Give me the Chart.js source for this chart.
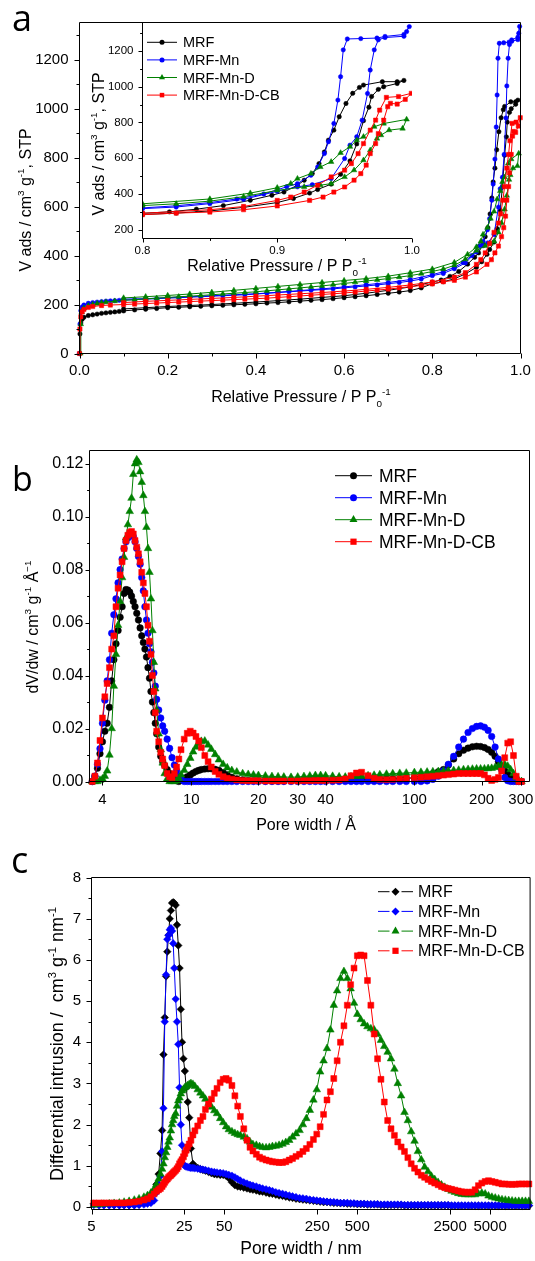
<!DOCTYPE html>
<html>
<head>
<meta charset="utf-8">
<script src="https://cdn.jsdelivr.net/npm/chart.js@4.4.1/dist/chart.umd.min.js"></script>
<style>
  body { margin: 0; background: #fff; width: 535px; height: 1261px; position: relative; overflow: hidden; }
  canvas { position: absolute; left: 0; }
</style>
</head>
<body>
<canvas id="chart-a" width="535" height="420" style="top:0"></canvas>
<canvas id="chart-inset" width="535" height="420" style="top:0"></canvas>
<canvas id="chart-b" width="535" height="420" style="top:420px"></canvas>
<canvas id="chart-c" width="535" height="421" style="top:840px"></canvas>
<script>
// ---------- data: panel a, N2 isotherms (relative pressure, volume adsorbed) ----------
const seriesNames = ['MRF', 'MRF-Mn', 'MRF-Mn-D', 'MRF-Mn-D-CB'];

const mrfAdsP = [0, 0.001, 0.003, 0.006, 0.01, 0.02, 0.03, 0.04, 0.05, 0.06, 0.07, 0.08, 0.09, 0.1, 0.125, 0.15, 0.175, 0.2, 0.225, 0.25, 0.275, 0.3, 0.325, 0.35, 0.375, 0.4, 0.425, 0.45, 0.475, 0.5, 0.525, 0.55, 0.575, 0.6, 0.625, 0.65, 0.675, 0.7, 0.725, 0.75, 0.775, 0.8, 0.825, 0.85, 0.875, 0.9, 0.912, 0.924, 0.93, 0.94, 0.947, 0.954, 0.959, 0.964, 0.968, 0.97, 0.975, 0.979, 0.989, 0.994];
const mrfAdsV = [0, 80, 125, 140, 148, 155, 158, 161, 164, 166, 168, 170, 172, 174, 178, 181, 184, 187, 189, 191, 193, 195, 197, 199, 201, 203, 206, 208, 211, 214, 217, 220, 224, 228, 232, 236, 241, 246, 251, 257, 268, 285, 293, 305, 325, 352, 375, 405, 425, 455, 510, 585, 680, 810, 885, 945, 985, 1000, 1018, 1035];
const mrfDesP = [0.989, 0.978, 0.964, 0.961, 0.956, 0.951, 0.946, 0.942, 0.938, 0.935, 0.931, 0.926, 0.92, 0.915, 0.905, 0.896, 0.88, 0.86, 0.84, 0.82, 0.8, 0.775, 0.75, 0.7, 0.65, 0.6, 0.55, 0.5, 0.45, 0.4, 0.35, 0.3, 0.25, 0.2, 0.15, 0.1];
const mrfDesV = [1028, 1028, 1009, 996, 963, 906, 832, 757, 701, 635, 570, 514, 477, 449, 411, 393, 365, 335, 315, 300, 292, 282, 272, 258, 246, 236, 229, 222, 216, 210, 205, 200, 196, 192, 187, 182];

const mnAdsP = [0, 0.001, 0.003, 0.006, 0.01, 0.02, 0.03, 0.04, 0.05, 0.06, 0.07, 0.08, 0.09, 0.1, 0.125, 0.15, 0.175, 0.2, 0.225, 0.25, 0.275, 0.3, 0.325, 0.35, 0.375, 0.4, 0.425, 0.45, 0.475, 0.5, 0.525, 0.55, 0.575, 0.6, 0.625, 0.65, 0.675, 0.7, 0.725, 0.75, 0.775, 0.8, 0.825, 0.85, 0.875, 0.9, 0.915, 0.926, 0.94, 0.95, 0.954, 0.959, 0.963, 0.967, 0.969, 0.972, 0.975, 0.98, 0.994, 0.996, 0.998];
const mnAdsV = [0, 120, 175, 190, 198, 205, 208, 210, 212, 214, 215, 216, 217, 218, 220, 222, 224, 226, 228, 230, 232, 234, 236, 238, 240, 243, 246, 249, 252, 255, 258, 261, 264, 268, 272, 276, 280, 285, 290, 296, 304, 318, 327, 346, 370, 415, 440, 452, 486, 598, 673, 720, 813, 962, 1093, 1206, 1262, 1275, 1282, 1308, 1336];
const mnDesP = [0.994, 0.98, 0.974, 0.962, 0.952, 0.949, 0.947, 0.945, 0.942, 0.938, 0.935, 0.93, 0.925, 0.915, 0.907, 0.89, 0.87, 0.85, 0.825, 0.8, 0.75, 0.7, 0.65, 0.6, 0.55, 0.5, 0.45, 0.4, 0.35, 0.3, 0.25, 0.2, 0.15, 0.1];
const mnDesV = [1292, 1281, 1272, 1269, 1267, 1206, 1056, 925, 794, 692, 626, 551, 505, 458, 440, 400, 372, 352, 334, 322, 302, 290, 281, 272, 264, 257, 250, 244, 240, 236, 232, 228, 224, 222];

const mndAdsP = [0.002, 0.003, 0.005, 0.01, 0.02, 0.03, 0.04, 0.05, 0.06, 0.08, 0.1, 0.125, 0.15, 0.175, 0.2, 0.225, 0.25, 0.275, 0.3, 0.325, 0.35, 0.375, 0.4, 0.425, 0.45, 0.475, 0.5, 0.525, 0.55, 0.575, 0.6, 0.625, 0.65, 0.675, 0.7, 0.725, 0.75, 0.775, 0.8, 0.825, 0.85, 0.875, 0.9, 0.92, 0.932, 0.94, 0.95, 0.957, 0.964, 0.969, 0.974, 0.977, 0.983, 0.993, 0.996];
const mndAdsV = [0, 120, 170, 185, 195, 200, 204, 207, 210, 214, 217, 220, 223, 226, 229, 232, 234, 237, 240, 243, 246, 249, 252, 256, 260, 264, 268, 272, 276, 281, 286, 291, 296, 301, 306, 312, 318, 326, 335, 345, 360, 385, 420, 440, 449, 458, 495, 533, 589, 645, 710, 729, 757, 766, 817];
const mndDesP = [0.979, 0.972, 0.964, 0.959, 0.954, 0.947, 0.94, 0.932, 0.925, 0.915, 0.91, 0.9, 0.88, 0.85, 0.8, 0.75, 0.7, 0.65, 0.6, 0.55, 0.5, 0.45, 0.4, 0.35, 0.3, 0.25, 0.2, 0.15, 0.1];
const mndDesV = [794, 776, 720, 701, 664, 630, 580, 551, 514, 486, 458, 435, 405, 372, 345, 330, 316, 306, 298, 290, 282, 274, 266, 258, 250, 243, 237, 232, 227];

const cbAdsP = [0, 0.001, 0.003, 0.006, 0.01, 0.02, 0.03, 0.05, 0.07, 0.1, 0.125, 0.15, 0.175, 0.2, 0.225, 0.25, 0.275, 0.3, 0.325, 0.35, 0.375, 0.4, 0.425, 0.45, 0.475, 0.5, 0.525, 0.55, 0.575, 0.6, 0.625, 0.65, 0.675, 0.7, 0.725, 0.75, 0.775, 0.8, 0.825, 0.85, 0.875, 0.9, 0.924, 0.934, 0.942, 0.95, 0.957, 0.962, 0.966, 0.969, 0.973, 0.975, 0.979, 0.982, 0.984, 0.989, 0.995, 0.9995];
const cbAdsV = [0, 100, 150, 170, 180, 188, 192, 196, 198, 200, 202, 204, 206, 208, 210, 212, 214, 216, 218, 220, 222, 224, 226, 229, 232, 235, 238, 241, 244, 247, 251, 255, 259, 263, 268, 273, 278, 284, 293, 299, 312, 333, 364, 383, 411, 439, 477, 514, 561, 626, 682, 738, 813, 888, 907, 903, 929, 963];
const cbDesP = [0.99, 0.981, 0.976, 0.973, 0.969, 0.964, 0.96, 0.955, 0.95, 0.94, 0.93, 0.92, 0.91, 0.9, 0.875, 0.85, 0.8, 0.75, 0.7, 0.65, 0.6, 0.55, 0.5, 0.45, 0.4, 0.35, 0.3, 0.25, 0.2, 0.15, 0.1];
const cbDesV = [945, 940, 869, 813, 757, 682, 626, 570, 533, 495, 449, 411, 383, 364, 330, 312, 292, 280, 270, 262, 255, 249, 244, 239, 234, 229, 225, 221, 217, 213, 208];

// ---------- data: panel b, pore size distribution (width in Angstrom, dV/dw) ----------
const widthAng = [
  3.6, 3.7, 3.8, 3.9, 4.0, 4.1, 4.2, 4.3, 4.4, 4.5,
  4.6, 4.7, 4.8, 4.9, 5.0, 5.1, 5.2, 5.3, 5.4, 5.5,
  5.6, 5.7, 5.8, 5.9, 6.0, 6.1, 6.2, 6.3, 6.4, 6.5,
  6.6, 6.7, 6.8, 6.9, 7.0, 7.15, 7.3, 7.45, 7.6, 7.8,
  8.0, 8.2, 8.4, 8.6, 8.8, 9.0, 9.3, 9.6, 9.9, 10.2,
  10.5, 10.8, 11.1, 11.5, 11.9, 12.3, 12.8, 13.3, 13.9, 14.5,
  15.2, 16, 17, 18, 19, 20, 21.5, 23, 24.5, 26,
  28, 30, 32, 34, 36, 38, 40, 43, 46, 49,
  52, 55, 58, 62, 66, 70, 75, 80, 86, 92,
  100, 107, 114, 121, 128, 135, 142, 150, 158, 166,
  174, 182, 190, 198, 206, 214, 222, 230, 238, 246,
  254, 262, 270, 278, 286, 294, 302];
const psdMRF = [
  0, 0.002, 0.005, 0.0105, 0.015, 0.019, 0.022, 0.028, 0.038, 0.046,
  0.052, 0.057, 0.062, 0.066, 0.071, 0.0725, 0.0723, 0.0715, 0.070, 0.068,
  0.066, 0.0635, 0.061, 0.058, 0.055, 0.0525, 0.050, 0.047, 0.043, 0.039,
  0.034, 0.03, 0.026, 0.022, 0.018, 0.013, 0.0095, 0.0075, 0.006, 0.0045,
  0.003, 0.0018, 0.001, 0.0003, 0, 0.0005, 0.0012, 0.0018, 0.0025, 0.0032,
  0.0038, 0.0042, 0.0045, 0.0047, 0.0048, 0.0048, 0.0046, 0.0042, 0.0034, 0.0025,
  0.0016, 0.001, 0.0006, 0.0004, 0.0003, 0.0003, 0.0002, 0.0002, 0.0002, 0.0002,
  0.0003, 0.0003, 0.0004, 0.0005, 0.0005, 0.0005, 0.0005, 0.0005, 0.0005, 0.0005,
  0.0006, 0.0006, 0.0007, 0.0007, 0.0008, 0.0008, 0.0009, 0.001, 0.0011, 0.0012,
  0.0014, 0.0017, 0.0022, 0.003, 0.0037, 0.0045, 0.0062, 0.0085, 0.0105, 0.0118,
  0.0126, 0.0131, 0.0133, 0.0132, 0.0128, 0.0121, 0.011, 0.0095, 0.0075, 0.0055,
  0.004, 0.0028, 0.0018, 0.001, 0.0003, 0, 0];
const psdMn = [
  0, 0.002, 0.0065, 0.0124, 0.022, 0.0307, 0.038, 0.046, 0.056, 0.063,
  0.069, 0.075, 0.080, 0.084, 0.088, 0.0905, 0.092, 0.093, 0.093, 0.0925,
  0.0905, 0.088, 0.085, 0.082, 0.077, 0.072, 0.066, 0.061, 0.056, 0.052,
  0.049, 0.045, 0.041, 0.036, 0.031, 0.027, 0.024, 0.021, 0.019, 0.016,
  0.0125, 0.009, 0.0062, 0.004, 0.002, 0.0008, 0, 0, 0, 0,
  0, 0, 0, 0, 0, 0, 0, 0, 0, 0,
  0, 0, 0, 0, 0, 0, 0, 0, 0, 0,
  0, 0, 0, 0, 0, 0, 0, 0, 0, 0,
  0, 0, 0, 0, 0, 0, 0, 0, 0, 0,
  0, 0, 0.0002, 0.0008, 0.002, 0.004, 0.0065, 0.0095, 0.013, 0.016,
  0.0185, 0.02, 0.0208, 0.021, 0.0205, 0.0193, 0.017, 0.013, 0.0085, 0.0045,
  0.0015, 0.0003, 0, 0, 0, 0, 0];
const psdMnD = [
  0, 0, 0, 0.0005, 0.001, 0.002, 0.004, 0.01, 0.02, 0.036,
  0.048, 0.059, 0.068, 0.077, 0.0847, 0.092, 0.097, 0.102, 0.107, 0.116,
  0.12, 0.1215, 0.1205, 0.117, 0.113, 0.108, 0.102, 0.096, 0.088, 0.079,
  0.069, 0.057, 0.045, 0.035, 0.027, 0.018, 0.012, 0.007, 0.003, 0.001,
  0, 0, 0, 0.0003, 0.0012, 0.0025, 0.0042, 0.0065, 0.0088, 0.0112,
  0.013, 0.0143, 0.0152, 0.0153, 0.0138, 0.0122, 0.0102, 0.0082, 0.0065, 0.0052,
  0.0042, 0.0036, 0.003, 0.0027, 0.0025, 0.0023, 0.0021, 0.0019, 0.0018, 0.0017,
  0.0016, 0.0017, 0.0019, 0.0021, 0.0023, 0.0023, 0.0022, 0.002, 0.0018, 0.0017,
  0.0018, 0.0019, 0.002, 0.0022, 0.0024, 0.0026, 0.0028, 0.003, 0.0031, 0.0032,
  0.0034, 0.0035, 0.0036, 0.0037, 0.0038, 0.0039, 0.004, 0.0042, 0.0043, 0.0045,
  0.0046, 0.0047, 0.0048, 0.0048, 0.0048, 0.0049, 0.005, 0.0053, 0.0058, 0.0063,
  0.0065, 0.0058, 0.0045, 0.003, 0.0015, 0.0003, 0];
const psdMnDCB = [
  0, 0.002, 0.007, 0.0155, 0.024, 0.032, 0.037, 0.043, 0.05, 0.055,
  0.066, 0.073, 0.078, 0.083, 0.088, 0.091, 0.093, 0.094, 0.0944, 0.0935,
  0.091, 0.0885, 0.086, 0.083, 0.079, 0.075, 0.071, 0.066, 0.059, 0.053,
  0.048, 0.04, 0.034, 0.026, 0.019, 0.015, 0.011, 0.0085, 0.006, 0.003,
  0.0018, 0.0015, 0.003, 0.0055, 0.0085, 0.012, 0.016, 0.0182, 0.019, 0.0183,
  0.017, 0.0153, 0.0128, 0.0098, 0.0075, 0.0055, 0.0038, 0.0027, 0.0018, 0.0012,
  0.0009, 0.0006, 0.0004, 0.0003, 0.0003, 0.0003, 0.0002, 0.0002, 0.0002, 0.0002,
  0.0002, 0.0002, 0.0003, 0.0003, 0.0004, 0.0004, 0.0004, 0.0005, 0.0006, 0.001,
  0.0022, 0.0032, 0.0035, 0.0022, 0.0012, 0.0008, 0.0007, 0.0008, 0.001, 0.0012,
  0.0014, 0.0016, 0.0018, 0.002, 0.0022, 0.0024, 0.0026, 0.0028, 0.003, 0.003,
  0.003, 0.003, 0.003, 0.003, 0.0025, 0.0012, 0.0004, 0.0008, 0.0015, 0.004,
  0.009, 0.0145, 0.015, 0.0098, 0.002, 0, 0];

// ---------- data: panel c, Hg intrusion (width in nm, differential intrusion) ----------
const widthNm = [
  5.2, 5.7, 6.2, 6.8, 7.4, 8.1, 8.8, 9.6, 10.5, 11.4,
  12.4, 13.2, 14.0, 14.8, 15.4, 16.0, 16.5, 17.0, 17.4, 17.8,
  18.2, 18.6, 19.0, 19.4, 19.8, 20.2, 20.6, 21.0, 21.5, 22.0,
  22.5, 23.0, 23.5, 24.0, 24.6, 25.2, 25.8, 26.5, 27.2, 28.0,
  29, 30, 31.5, 33, 34.5, 36, 38, 40, 42, 44,
  46.5, 49, 51.5, 54, 57, 60, 63, 66, 70, 74,
  78, 82, 87, 92, 97, 103, 109, 115, 122, 129,
  137, 145, 154, 163, 173, 184, 195, 207, 220, 234,
  248, 263, 279, 296, 314, 333, 353, 374, 397, 421,
  446, 473, 501, 531, 563, 597, 633, 671, 711, 754,
  799, 847, 898, 952, 1009, 1070, 1134, 1202, 1274, 1350,
  1431, 1517, 1608, 1705, 1807, 1915, 2030, 2152, 2281, 2418,
  2563, 2717, 2880, 3053, 3236, 3430, 3636, 3854, 4085, 4330,
  4590, 4865, 5157, 5466, 5794, 6142, 6510, 6901, 7315, 7754,
  8219, 8712, 9235, 9790];
const hgMRF = [
  0.08, 0.07, 0.06, 0.06, 0.05, 0.05, 0.05, 0.05, 0.05, 0.06,
  0.1, 0.17, 0.28, 0.4, 0.55, 0.8, 1.3, 1.86, 3.7, 4.6,
  5.6, 6.2, 6.6, 7.0, 7.2, 7.38, 7.4, 7.38, 7.33, 6.85,
  6.35, 5.8, 4.8, 4.0, 3.6, 3.3, 2.9, 2.55, 2.17, 1.42,
  1.05, 0.98, 0.95, 0.92, 0.9, 0.88, 0.85, 0.82, 0.8, 0.79,
  0.78, 0.78, 0.76, 0.7, 0.6, 0.53, 0.5, 0.49, 0.47, 0.45,
  0.43, 0.42, 0.4, 0.38, 0.37, 0.35, 0.33, 0.32, 0.3, 0.28,
  0.27, 0.25, 0.23, 0.22, 0.2, 0.19, 0.18, 0.17, 0.16, 0.15,
  0.14, 0.13, 0.12, 0.12, 0.11, 0.1, 0.1, 0.09, 0.09, 0.08,
  0.08, 0.08, 0.07, 0.07, 0.07, 0.06, 0.06, 0.06, 0.06, 0.05,
  0.05, 0.05, 0.05, 0.05, 0.05, 0.05, 0.04, 0.04, 0.04, 0.04,
  0.04, 0.04, 0.04, 0.04, 0.04, 0.04, 0.04, 0.04, 0.04, 0.04,
  0.03, 0.03, 0.03, 0.03, 0.03, 0.03, 0.03, 0.03, 0.03, 0.03,
  0.03, 0.03, 0.03, 0.03, 0.03, 0.03, 0.03, 0.03, 0.03, 0.03,
  0.03, 0.03, 0.03, 0.03];
const hgMn = [
  0.05, 0.04, 0.04, 0.04, 0.04, 0.04, 0.04, 0.04, 0.04, 0.05,
  0.06, 0.08, 0.1, 0.16, 0.35, 0.55, 0.75, 1.35, 2.4, 4.5,
  5.64, 6.5, 6.6, 6.73, 6.77, 6.7, 6.4, 5.8, 5.05, 4.5,
  3.95, 2.9, 2.0, 1.5, 1.03, 1.0, 0.98, 0.97, 0.96, 0.95,
  0.95, 0.94, 0.93, 0.92, 0.91, 0.9, 0.88, 0.86, 0.85, 0.84,
  0.83, 0.82, 0.8, 0.78, 0.76, 0.72, 0.68, 0.64, 0.6, 0.57,
  0.54, 0.52, 0.5, 0.47, 0.45, 0.43, 0.41, 0.39, 0.36, 0.34,
  0.32, 0.3, 0.28, 0.26, 0.24, 0.22, 0.21, 0.2, 0.18, 0.17,
  0.16, 0.15, 0.14, 0.13, 0.12, 0.12, 0.11, 0.1, 0.1, 0.1,
  0.09, 0.09, 0.08, 0.08, 0.08, 0.07, 0.07, 0.07, 0.07, 0.06,
  0.06, 0.06, 0.06, 0.06, 0.06, 0.06, 0.05, 0.05, 0.05, 0.05,
  0.05, 0.05, 0.05, 0.05, 0.05, 0.05, 0.05, 0.05, 0.05, 0.05,
  0.04, 0.04, 0.04, 0.04, 0.04, 0.04, 0.04, 0.04, 0.04, 0.04,
  0.04, 0.04, 0.04, 0.04, 0.04, 0.04, 0.04, 0.04, 0.04, 0.04,
  0.04, 0.04, 0.04, 0.04];
const hgMnD = [
  0.05, 0.06, 0.07, 0.08, 0.09, 0.1, 0.12, 0.14, 0.17, 0.2,
  0.24, 0.28, 0.34, 0.44, 0.55, 0.68, 0.8, 0.92, 1.05, 1.2,
  1.32, 1.45, 1.58, 1.68, 1.85, 2.0, 2.1, 2.2, 2.27, 2.45,
  2.58, 2.65, 2.75, 2.82, 2.86, 2.9, 2.92, 2.95, 2.98, 3.0,
  2.98, 2.93, 2.85, 2.77, 2.7, 2.62, 2.52, 2.43, 2.34, 2.27,
  2.15, 2.05, 1.95, 1.88, 1.83, 1.79, 1.76, 1.74, 1.7, 1.66,
  1.58, 1.52, 1.5, 1.47, 1.45, 1.44, 1.45, 1.47, 1.48, 1.5,
  1.53, 1.57, 1.62, 1.7, 1.78, 1.86, 2.0, 2.15, 2.35, 2.6,
  2.85, 3.28, 3.55, 3.85, 4.3, 4.9, 5.25, 5.55, 5.72, 5.55,
  5.3, 4.95, 4.68, 4.55, 4.45, 4.38, 4.33, 4.3, 4.2, 4.05,
  3.9, 3.76, 3.6, 3.35, 3.0, 2.7, 2.3, 2.1, 1.83, 1.6,
  1.35, 1.15, 0.97, 0.86, 0.75, 0.67, 0.6, 0.54, 0.48, 0.43,
  0.39, 0.36, 0.33, 0.31, 0.3, 0.3, 0.3, 0.3, 0.32, 0.34,
  0.32, 0.27, 0.24, 0.22, 0.2, 0.18, 0.17, 0.16, 0.15, 0.14,
  0.14, 0.14, 0.14, 0.14];
const hgMnDCB = [
  0.1, 0.1, 0.1, 0.1, 0.1, 0.1, 0.1, 0.11, 0.12, 0.14,
  0.17, 0.2, 0.25, 0.32, 0.38, 0.42, 0.45, 0.5, 0.55, 0.6,
  0.65, 0.68, 0.72, 0.75, 0.77, 0.8, 0.83, 0.86, 0.89, 0.93,
  0.98, 1.05, 1.1, 1.15, 1.22, 1.3, 1.38, 1.46, 1.53, 1.62,
  1.75, 1.85, 1.97, 2.1, 2.2, 2.37, 2.5, 2.62, 2.76, 2.88,
  3.02, 3.1, 3.12, 3.08, 2.95, 2.7, 2.45, 2.2, 1.9, 1.62,
  1.45, 1.36, 1.28, 1.21, 1.17, 1.14, 1.12, 1.1, 1.09, 1.08,
  1.08, 1.1, 1.14, 1.18, 1.23, 1.28, 1.35, 1.42, 1.52, 1.64,
  1.77, 1.95, 2.25, 2.6, 2.8, 3.12, 3.55, 4.0, 4.4, 4.9,
  5.4, 5.8, 6.1, 6.12, 6.1, 5.5, 4.9, 4.2, 3.6, 3.1,
  2.55, 2.1, 1.9, 1.74, 1.58, 1.46, 1.35, 1.2, 1.05, 0.94,
  0.85, 0.77, 0.72, 0.67, 0.62, 0.58, 0.54, 0.5, 0.47, 0.45,
  0.43, 0.41, 0.39, 0.37, 0.36, 0.36, 0.36, 0.42, 0.52, 0.58,
  0.62, 0.64, 0.62, 0.6, 0.58, 0.56, 0.56, 0.55, 0.55, 0.55,
  0.56, 0.56, 0.56, 0.56];

// ---------- tick values ----------
const isoXTicks = [0, 0.2, 0.4, 0.6, 0.8, 1.0];
const isoXMinor = [0.1, 0.3, 0.5, 0.7, 0.9];
const isoYTicks = [0, 200, 400, 600, 800, 1000, 1200];
const isoYMinor = [100, 300, 500, 700, 900, 1100, 1300];
const insetXTicks = [0.8, 0.9, 1.0];
const insetXMinor = [0.85, 0.95];
const insetYTicks = [200, 400, 600, 800, 1000, 1200];
const insetYMinor = [300, 500, 700, 900, 1100, 1300];
const psdXTicks = [4, 10, 20, 30, 40, 100, 200, 300];
const psdYTicks = [0, 0.02, 0.04, 0.06, 0.08, 0.10, 0.12];
const psdYMinor = [0.01, 0.03, 0.05, 0.07, 0.09, 0.11];
const hgXTicks = [5, 25, 50, 250, 500, 2500, 5000];
const hgYTicks = [0, 1, 2, 3, 4, 5, 6, 7, 8];
const hgYMinor = [0.5, 1.5, 2.5, 3.5, 4.5, 5.5, 6.5, 7.5];

// ---------- styling ----------
const FONT = '"Liberation Sans", Arial, Helvetica, sans-serif';
const W = 535;
const colors = ['#000000', '#0000ff', '#008000', '#ff0000'];

Chart.defaults.font.family = FONT;
Chart.defaults.color = '#000';

function toPoints(xs, ys) {
  return xs.map((x, i) => ({ x: x, y: ys[i] }));
}

function dataset(label, color, style, radius, points, order, clip) {
  return {
    label: label,
    data: points,
    borderColor: color,
    backgroundColor: color,
    pointBackgroundColor: color,
    pointBorderColor: color,
    pointStyle: style,
    pointRadius: radius,
    pointBorderWidth: 0.5,
    borderWidth: 1,
    tension: 0,
    fill: false,
    order: order,
    clip: clip
  };
}

// padding so that the plot rectangle lands exactly on `area`
function plotLayout(H, area, yw, xh) {
  return { padding: { left: area.l - yw, top: area.t, right: W - area.r, bottom: H - area.b - xh } };
}

function axis(o) {
  return {
    type: o.type || 'linear',
    position: o.position,
    min: o.min,
    max: o.max,
    bounds: 'data',
    grid: { display: false, drawTicks: true, tickLength: o.tl },
    border: { display: false },
    ticks: {
      autoSkip: false, maxRotation: 0, minRotation: 0,
      padding: o.pad, color: '#000',
      font: { size: o.font, family: FONT },
      callback: o.fmt
    },
    afterBuildTicks: s => { s.ticks = o.major.map(v => ({ value: v })); },
    afterFit: s => {
      if (o.position === 'bottom') s.height = o.size; else s.width = o.size;
      s.paddingLeft = 0; s.paddingRight = 0; s.paddingTop = 0; s.paddingBottom = 0;
    }
  };
}

function marker(ctx, style, r, x, y) {
  ctx.beginPath();
  if (style === 'circle') {
    ctx.arc(x, y, r, 0, Math.PI * 2);
  } else if (style === 'rect') {
    const s = r * Math.SQRT1_2;
    ctx.rect(x - s, y - s, 2 * s, 2 * s);
  } else if (style === 'rectRot') {
    ctx.moveTo(x, y - r); ctx.lineTo(x + r, y); ctx.lineTo(x, y + r); ctx.lineTo(x - r, y);
    ctx.closePath();
  } else if (style === 'triangle') {
    ctx.moveTo(x, y - r);
    ctx.lineTo(x + r * 0.866, y + r * 0.5);
    ctx.lineTo(x - r * 0.866, y + r * 0.5);
    ctx.closePath();
  }
  ctx.fill();
}

// text with superscripts (kind 1) and subscripts (kind -1), centred on x,y
function richText(ctx, parts, x, y, size, rotate) {
  ctx.save();
  ctx.translate(x, y);
  if (rotate) ctx.rotate(-Math.PI / 2);
  ctx.fillStyle = '#000';
  ctx.textBaseline = 'alphabetic';
  ctx.textAlign = 'left';
  const fontFor = k => (k ? size * 0.62 : size) + 'px ' + FONT;
  const widths = parts.map(p => { ctx.font = fontFor(p[1]); return ctx.measureText(p[0]).width; });
  const total = widths.reduce((a, b) => a + b, 0);
  let cx = -total / 2;
  const base = size * 0.36;
  parts.forEach((p, i) => {
    ctx.font = fontFor(p[1]);
    const dy = p[1] === 1 ? -size * 0.42 : p[1] === -1 ? size * 0.3 : 0;
    ctx.fillText(p[0], cx, base + dy);
    cx += widths[i];
  });
  ctx.restore();
}

// frame, tick marks, titles, legend and panel letter
function framePlugin(cfg) {
  return {
    id: 'frame',
    afterDraw(chart) {
      const ctx = chart.ctx;
      const a = chart.chartArea;
      const xs = chart.scales.x;
      const ys = chart.scales.y;
      ctx.save();
      ctx.strokeStyle = '#000';
      ctx.lineWidth = 1;
      ctx.beginPath();
      if (cfg.box) {
        ctx.rect(a.left, a.top, a.right - a.left, a.bottom - a.top);
      } else {
        ctx.moveTo(a.left, a.top); ctx.lineTo(a.left, a.bottom); ctx.lineTo(a.right, a.bottom);
      }
      const tickX = (vals, len) => vals.forEach(v => {
        const px = Math.round(xs.getPixelForValue(v)) + 0.5;
        ctx.moveTo(px, a.bottom); ctx.lineTo(px, a.bottom + len);
      });
      const tickY = (vals, len) => vals.forEach(v => {
        const py = Math.round(ys.getPixelForValue(v)) + 0.5;
        ctx.moveTo(a.left, py); ctx.lineTo(a.left - len, py);
      });
      tickX(cfg.xMajor, cfg.tl);
      tickX(cfg.xMinor || [], cfg.tl * 0.6);
      tickY(cfg.yMajor, cfg.tl);
      tickY(cfg.yMinor || [], cfg.tl * 0.6);
      ctx.stroke();

      (cfg.titles || []).forEach(t => richText(ctx, t.parts, t.x, t.y, t.size, t.rotate));

      if (cfg.legend) {
        const L = cfg.legend;
        chart.data.datasets.forEach((ds, i) => {
          const y = L.y0 + i * L.dy;
          const xm = (L.x0 + L.x1) / 2;
          ctx.strokeStyle = ds.borderColor;
          ctx.fillStyle = ds.borderColor;
          ctx.lineWidth = 1;
          ctx.beginPath();
          if (L.gap) {
            ctx.moveTo(L.x0, y); ctx.lineTo(xm - L.gap, y);
            ctx.moveTo(xm + L.gap, y); ctx.lineTo(L.x1, y);
          } else {
            ctx.moveTo(L.x0, y); ctx.lineTo(L.x1, y);
          }
          ctx.stroke();
          marker(ctx, ds.pointStyle, L.radius[i], xm, y);
          ctx.fillStyle = '#000';
          ctx.font = L.size + 'px ' + FONT;
          ctx.textBaseline = 'middle';
          ctx.textAlign = 'left';
          ctx.fillText(ds.label, L.textX, y + 1);
        });
      }

      if (cfg.letter) {
        ctx.fillStyle = '#000';
        ctx.font = cfg.letter.size + 'px "Open Sans", ' + FONT;
        ctx.textBaseline = 'alphabetic';
        ctx.textAlign = 'left';
        ctx.fillText(cfg.letter.text, cfg.letter.x, cfg.letter.y);
      }
      ctx.restore();
    }
  };
}

const baseOptions = {
  responsive: false,
  animation: false,
  events: [],
  plugins: { legend: { display: false }, tooltip: { enabled: false } }
};

// ---------- panel a: isotherms ----------
function isoDatasets(radius, clip) {
  return [
    dataset(seriesNames[0], colors[0], 'circle', radius[0], toPoints(mrfAdsP.concat(mrfDesP), mrfAdsV.concat(mrfDesV)), 4, clip),
    dataset(seriesNames[1], colors[1], 'circle', radius[1], toPoints(mnAdsP.concat(mnDesP), mnAdsV.concat(mnDesV)), 3, clip),
    dataset(seriesNames[2], colors[2], 'triangle', radius[2], toPoints(mndAdsP.concat(mndDesP), mndAdsV.concat(mndDesV)), 2, clip),
    dataset(seriesNames[3], colors[3], 'rect', radius[3], toPoints(cbAdsP.concat(cbDesP), cbAdsV.concat(cbDesV)), 1, clip)
  ];
}

const isoTitle = [['V ads / cm', 0], ['3', 1], [' g', 0], ['-1', 1], [', STP', 0]];
const pressureTitle = [['Relative Pressure / P P', 0], ['0', -1], ['-1', 1]];

const areaA = { l: 79.5, t: 22.5, r: 520.5, b: 353.5 };
new Chart(document.getElementById('chart-a'), {
  type: 'line',
  data: { datasets: isoDatasets([2.2, 2.2, 3.2, 3], 4) },
  options: Object.assign({}, baseOptions, {
    layout: plotLayout(420, areaA, 60, 50),
    scales: {
      x: axis({ position: 'bottom', min: 0, max: 1, major: isoXTicks, tl: 5, pad: 3, font: 15, size: 50, fmt: v => v.toFixed(1) }),
      y: axis({ position: 'left', min: 0, max: 1352, major: isoYTicks, tl: 5, pad: 6, font: 15, size: 60, fmt: v => String(v) })
    }
  }),
  plugins: [framePlugin({
    box: true, tl: 5,
    xMajor: isoXTicks, xMinor: isoXMinor, yMajor: isoYTicks, yMinor: isoYMinor,
    titles: [
      { parts: isoTitle, x: 25, y: 200, size: 16, rotate: true },
      { parts: pressureTitle, x: 301, y: 396, size: 16 }
    ],
    letter: { text: 'a', x: 12, y: 31, size: 36 }
  })]
});

const areaInset = { l: 142.5, t: 22.5, r: 412, b: 238.5 };
new Chart(document.getElementById('chart-inset'), {
  type: 'line',
  data: { datasets: isoDatasets([2.2, 2.2, 3.2, 3], 0) },
  options: Object.assign({}, baseOptions, {
    layout: plotLayout(420, areaInset, 40, 30),
    scales: {
      x: axis({ position: 'bottom', min: 0.8, max: 1.0, major: insetXTicks, tl: 4, pad: 1, font: 11.5, size: 30, fmt: v => v.toFixed(1) }),
      y: axis({ position: 'left', min: 151, max: 1359, major: insetYTicks, tl: 4, pad: 5, font: 11.5, size: 40, fmt: v => String(v) })
    }
  }),
  plugins: [framePlugin({
    box: false, tl: 4,
    xMajor: insetXTicks, xMinor: insetXMinor, yMajor: insetYTicks, yMinor: insetYMinor,
    titles: [
      { parts: isoTitle, x: 98, y: 144, size: 16, rotate: true },
      { parts: pressureTitle, x: 277, y: 265, size: 16 }
    ],
    legend: { x0: 147, x1: 177, textX: 183, y0: 42.3, dy: 17.6, size: 14.5, radius: [2.5, 2.5, 3.5, 3.2] }
  })]
});

// ---------- panel b: pore size distribution ----------
const areaB = { l: 89.5, t: 30.5, r: 529.5, b: 361.5 };
new Chart(document.getElementById('chart-b'), {
  type: 'line',
  data: {
    datasets: [
      dataset(seriesNames[0], colors[0], 'circle', 3.3, toPoints(widthAng, psdMRF), 4, 8),
      dataset(seriesNames[1], colors[1], 'circle', 3.3, toPoints(widthAng, psdMn), 3, 8),
      dataset(seriesNames[2], colors[2], 'triangle', 4.4, toPoints(widthAng, psdMnD), 2, 8),
      dataset(seriesNames[3], colors[3], 'rect', 4.2, toPoints(widthAng, psdMnDCB), 1, 8)
    ]
  },
  options: Object.assign({}, baseOptions, {
    layout: plotLayout(420, areaB, 70, 40),
    scales: {
      x: axis({ type: 'logarithmic', position: 'bottom', min: 3.5, max: 328, major: psdXTicks, tl: 4, pad: 5.5, font: 15, size: 40, fmt: v => String(v) }),
      y: axis({ position: 'left', min: 0, max: 0.125, major: psdYTicks, tl: 4, pad: 2, font: 16, size: 70, fmt: v => v.toFixed(2) })
    }
  }),
  plugins: [framePlugin({
    box: true, tl: 4,
    xMajor: psdXTicks, yMajor: psdYTicks, yMinor: psdYMinor,
    titles: [
      { parts: [['dV/dw / cm', 0], ['3', 1], [' g', 0], ['-1', 1], [' \u00c5', 0], ['\u22121', 1]], x: 32, y: 207, size: 16, rotate: true },
      { parts: [['Pore width / \u00c5', 0]], x: 306, y: 404, size: 16 }
    ],
    legend: { x0: 335, x1: 372, textX: 379, y0: 55.7, dy: 22, size: 17.5, radius: [3.5, 3.5, 4.6, 4.4] },
    letter: { text: 'b', x: 12, y: 71, size: 34 }
  })]
});

// ---------- panel c: Hg intrusion ----------
const areaC = { l: 91.5, t: 37.5, r: 531.5, b: 369.5 };
new Chart(document.getElementById('chart-c'), {
  type: 'line',
  data: {
    datasets: [
      dataset(seriesNames[0], colors[0], 'rectRot', 3.8, toPoints(widthNm, hgMRF), 4, 8),
      dataset(seriesNames[1], colors[1], 'rectRot', 3.8, toPoints(widthNm, hgMn), 3, 8),
      dataset(seriesNames[2], colors[2], 'triangle', 4.4, toPoints(widthNm, hgMnD), 2, 8),
      dataset(seriesNames[3], colors[3], 'rect', 4.2, toPoints(widthNm, hgMnDCB), 1, 8)
    ]
  },
  options: Object.assign({}, baseOptions, {
    layout: plotLayout(421, areaC, 70, 40),
    scales: {
      x: axis({ type: 'logarithmic', position: 'bottom', min: 5, max: 10000, major: hgXTicks, tl: 5, pad: 3, font: 15, size: 40, fmt: v => String(v) }),
      y: axis({ position: 'left', min: -0.06, max: 8, major: hgYTicks, tl: 5, pad: 5.5, font: 15, size: 70, fmt: v => String(v) })
    }
  }),
  plugins: [framePlugin({
    box: true, tl: 5,
    xMajor: hgXTicks, yMajor: hgYTicks, yMinor: hgYMinor,
    titles: [
      { parts: [['Differential intrusion /  cm', 0], ['3', 1], [' g', 0], ['-1', 1], [' nm', 0], ['-1', 1]], x: 57, y: 204, size: 18, rotate: true },
      { parts: [['Pore width / nm', 0]], x: 301, y: 408, size: 17.5 }
    ],
    legend: { x0: 378, x1: 413, textX: 418, y0: 51.7, dy: 19.7, size: 16, gap: 6, radius: [4, 4, 4.6, 4.4] },
    letter: { text: 'c', x: 11, y: 33, size: 36 }
  })]
});
</script>
</body>
</html>
